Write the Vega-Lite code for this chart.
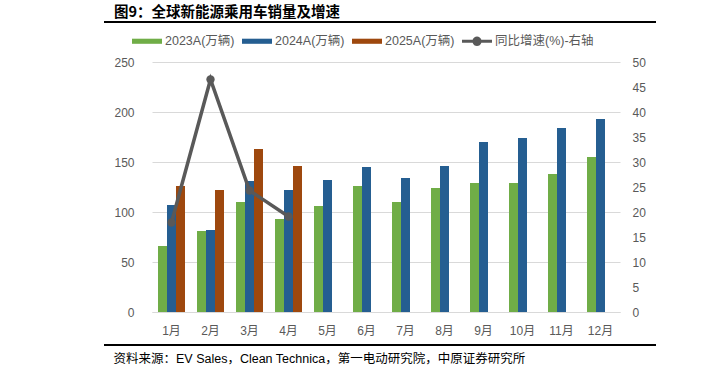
{
  "$schema": "https://vega.github.io/schema/vega-lite/v6.json",
  "autosize": "none",
  "width": 468,
  "height": 250,
  "padding": {"left": 152, "top": 62, "right": 107, "bottom": 57},
  "background": "white",
  "config": {
    "view": {"stroke": null},
    "font": "Liberation Sans, Noto Sans CJK SC",
    "axis": {"labelFont": "Liberation Sans, Noto Sans CJK SC"},
    "legend": {"labelFont": "Liberation Sans, Noto Sans CJK SC"}
  },
  "title": {
    "text": "图9：全球新能源乘用车销量及增速",
    "anchor": "start",
    "frame": "group",
    "fontSize": 14.5,
    "fontWeight": "bold",
    "color": "#000000",
    "font": "Noto Sans CJK SC",
    "dx": -38,
    "offset": 1
  },
  "datasets": {
    "sales": [
      {"month": "1月", "series": "2023A(万辆)", "value": 66},
      {"month": "1月", "series": "2024A(万辆)", "value": 107},
      {"month": "1月", "series": "2025A(万辆)", "value": 126},
      {"month": "2月", "series": "2023A(万辆)", "value": 81},
      {"month": "2月", "series": "2024A(万辆)", "value": 82},
      {"month": "2月", "series": "2025A(万辆)", "value": 122},
      {"month": "3月", "series": "2023A(万辆)", "value": 110},
      {"month": "3月", "series": "2024A(万辆)", "value": 131},
      {"month": "3月", "series": "2025A(万辆)", "value": 163},
      {"month": "4月", "series": "2023A(万辆)", "value": 93},
      {"month": "4月", "series": "2024A(万辆)", "value": 122},
      {"month": "4月", "series": "2025A(万辆)", "value": 146},
      {"month": "5月", "series": "2023A(万辆)", "value": 106},
      {"month": "5月", "series": "2024A(万辆)", "value": 132},
      {"month": "6月", "series": "2023A(万辆)", "value": 126},
      {"month": "6月", "series": "2024A(万辆)", "value": 145},
      {"month": "7月", "series": "2023A(万辆)", "value": 110},
      {"month": "7月", "series": "2024A(万辆)", "value": 134},
      {"month": "8月", "series": "2023A(万辆)", "value": 124},
      {"month": "8月", "series": "2024A(万辆)", "value": 146},
      {"month": "9月", "series": "2023A(万辆)", "value": 129},
      {"month": "9月", "series": "2024A(万辆)", "value": 170},
      {"month": "10月", "series": "2023A(万辆)", "value": 129},
      {"month": "10月", "series": "2024A(万辆)", "value": 174},
      {"month": "11月", "series": "2023A(万辆)", "value": 138},
      {"month": "11月", "series": "2024A(万辆)", "value": 184},
      {"month": "12月", "series": "2023A(万辆)", "value": 155},
      {"month": "12月", "series": "2024A(万辆)", "value": 193}
    ],
    "growth": [
      {"month": "1月", "yoy": 17.9},
      {"month": "2月", "yoy": 46.5},
      {"month": "3月", "yoy": 24.3},
      {"month": "4月", "yoy": 19.1}
    ]
  },
  "encoding": {
    "x": {
      "field": "month",
      "type": "nominal",
      "sort": ["1月","2月","3月","4月","5月","6月","7月","8月","9月","10月","11月","12月"],
      "scale": {"paddingInner": 0, "paddingOuter": 0},
      "axis": {
        "title": "资料来源：EV Sales，Clean Technica，第一电动研究院，中原证券研究所",
        "titleFont": "Liberation Sans, Noto Sans CJK SC",
        "titleFontSize": 12.5,
        "titleFontWeight": "normal",
        "titleColor": "#000000",
        "titleAnchor": "start",
        "titleAlign": "left",
        "titleBaseline": "middle",
        "titleX": -39,
        "titleY": 46,
        "labelAngle": 0,
        "labelFontSize": 12,
        "labelColor": "#595959",
        "labelPadding": 13,
        "ticks": false,
        "domain": true,
        "domainColor": "#D9D9D9",
        "domainWidth": 1
      }
    }
  },
  "layer": [
    {
      "data": {"name": "sales"},
      "mark": {"type": "bar"},
      "encoding": {
        "xOffset": {
          "field": "series",
          "type": "nominal",
          "scale": {"domain": ["2023A(万辆)","2024A(万辆)","2025A(万辆)"], "paddingInner": 0, "paddingOuter": 0.667}
        },
        "y": {
          "field": "value",
          "type": "quantitative",
          "scale": {"domain": [0, 250], "nice": false},
          "axis": {
            "orient": "left",
            "title": null,
            "values": [0, 50, 100, 150, 200, 250],
            "grid": true,
            "gridColor": "#D9D9D9",
            "gridWidth": 1,
            "domain": false,
            "ticks": false,
            "labelFontSize": 12,
            "labelColor": "#595959",
            "labelPadding": 18
          }
        },
        "color": {
          "field": "series",
          "type": "nominal",
          "scale": {
            "domain": ["2023A(万辆)","2024A(万辆)","2025A(万辆)","同比增速(%)-右轴"],
            "range": ["#70AD47","#255E91","#9E480E","#595959"]
          },
          "legend": {
            "orient": "none",
            "legendX": -20,
            "legendY": -36,
            "direction": "horizontal",
            "columns": 4,
            "title": null,
            "symbolSize": 900,
            "symbolStrokeWidth": 0,
            "symbolType": "M-1,-0.17H1V0.17H-1Z",
            "labelFontSize": 12.5,
            "labelColor": "#595959",
            "labelOffset": 3,
            "columnPadding": 7,
            "encode": {
              "symbols": {
                "update": {
                  "shape": {"signal": "datum.value === '同比增速(%)-右轴' ? 'M-1,-0.1H-0.29A0.3,0.3 0 0 1 0.29,-0.1H1V0.1H0.29A0.3,0.3 0 0 1 -0.29,0.1H-1Z' : 'M-1,-0.17H1V0.17H-1Z'"},
                  "fill": {"scale": "color", "field": "value"},
                  "opacity": {"value": 1}
                }
              }
            }
          }
        }
      }
    },
    {
      "data": {"name": "growth"},
      "mark": {"type": "line", "strokeWidth": 3.5, "point": {"filled": true, "size": 70}},
      "encoding": {
        "y": {
          "field": "yoy",
          "type": "quantitative",
          "scale": {"domain": [0, 50], "nice": false},
          "axis": {
            "orient": "right",
            "title": null,
            "values": [0, 5, 10, 15, 20, 25, 30, 35, 40, 45, 50],
            "grid": false,
            "domain": false,
            "ticks": false,
            "labelFontSize": 12,
            "labelColor": "#595959",
            "labelPadding": 12
          }
        },
        "color": {"datum": "同比增速(%)-右轴", "type": "nominal"}
      }
    },
    {
      "data": {"values": [{}]},
      "mark": {"type": "rule", "color": "#000000", "strokeWidth": 2},
      "encoding": {"x": {"value": -48}, "x2": {"value": 504}, "y": {"value": -40}}
    },
    {
      "data": {"values": [{}]},
      "mark": {"type": "rule", "color": "#000000", "strokeWidth": 2},
      "encoding": {"x": {"value": -48}, "x2": {"value": 504}, "y": {"value": 283}}
    }
  ],
  "resolve": {"scale": {"y": "independent"}}
}
